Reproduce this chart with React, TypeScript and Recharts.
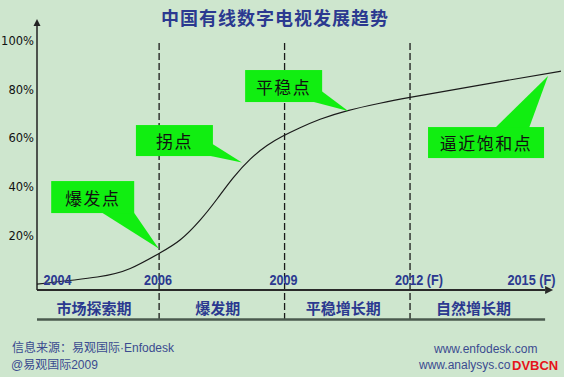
import React from 'react';
import { ComposedChart, Line, XAxis, YAxis, ReferenceLine, ReferenceDot, ReferenceArea } from 'recharts';

// ---- data ----
const years = [2003.08, 2004.52, 2005.31, 2006.0, 2006.5, 2006.98, 2007.39, 2007.77, 2008.18, 2008.58, 2008.94, 2009.37, 2009.85, 2010.49, 2011.28, 2012.0, 2013.67, 2015.61];
const penetration = [0, 2.9, 6.4, 12.6, 18.1, 26.3, 35.1, 43.7, 51.4, 57.0, 60.7, 64.3, 67.8, 71.3, 74.4, 76.8, 81.9, 87.6];

const yTicks = [20, 40, 60, 80, 100];
const yearTicks = [2004, 2006, 2009, 2012, 2015];
const yearLabels = ['2004', '2006', '2009', '2012 (F)', '2015 (F)'];
const dividerYears = [2006, 2009, 2012];
const phaseNames = ['市场探索期', '爆发期', '平稳增长期', '自然增长期'];
const phaseBounds = [2003.08, 2006, 2009, 2012, 2015.23];
const calloutTexts = ['爆发点', '拐点', '平稳点', '逼近饱和点'];
const calloutYears = [2005.99, 2007.98, 2010.52, 2015.3];
const calloutValues = [14.6, 50.0, 71.2, 85.6];

const chartData = years.map((year, i) => ({ year, value: penetration[i] }));

// ---- layout / style ----
const W = 564;
const H = 377;
const BG = '#CEE6CE';
const NAVY = '#2B3990';
const GREEN = '#11EE11';
const X_MIN = 2003.08;
const X_MAX = 2015.61;
const Y_MIN = -14.8;
const Y_MAX = 106.2;
const AXIS_Y = -2.5;
const AXIS_END_X = 2015.23;
const DIVIDER_TOP = 99.2;
const BOTTOM_Y = -14.6;
const CJK = "'Noto Sans CJK SC', 'Noto Sans', sans-serif";
const LATIN = "'Liberation Sans', 'Noto Sans CJK SC', sans-serif";

const calloutLayout = [
  { bx: -107.5, by: -67.5, w: 83, h: 32, t1: [-58.5, -37], t2: [-25.5, -37] },
  { bx: -106, by: -37.5, w: 77, h: 31, t1: [-31, -19.5], t2: [-36, -7.5] },
  { bx: -103, by: -41, w: 77, h: 32, t1: [-28, -21], t2: [-38, -10] },
  { bx: -120, by: 51, w: 116, h: 31, t1: [-53, 52], t2: [-19, 52] },
];

const arrowLine = (stroke: string, width: number, head: number, half: number) => (p: any) => {
  const { x1, y1, x2, y2 } = p;
  const dx = x2 - x1;
  const dy = y2 - y1;
  const len = Math.hypot(dx, dy) || 1;
  const ux = dx / len;
  const uy = dy / len;
  const tipX = x2 + ux * head;
  const tipY = y2 + uy * head;
  return (
    <g>
      <line x1={x1} y1={y1} x2={x2} y2={y2} stroke={stroke} strokeWidth={width} />
      {head > 0 && (
        <polygon
          points={`${tipX},${tipY} ${x2 - uy * half},${y2 + ux * half} ${x2 + uy * half},${y2 - ux * half}`}
          fill={stroke}
        />
      )}
    </g>
  );
};

const Callout = ({ cx, cy, text, layout }: any) => {
  const { bx, by, w, h, t1, t2 } = layout;
  return (
    <g>
      <polygon points={`${cx},${cy} ${cx + t1[0]},${cy + t1[1]} ${cx + t2[0]},${cy + t2[1]}`} fill={GREEN} />
      <rect x={cx + bx} y={cy + by} width={w} height={h} fill={GREEN} />
      <text
        x={cx + bx + w / 2}
        y={cy + by + h / 2}
        textAnchor="middle"
        dominantBaseline="central"
        fontFamily={CJK}
        fontSize={17}
        letterSpacing={1.5}
        fill="#111"
      >
        {text}
      </text>
    </g>
  );
};

const YearLabel = ({ cx, cy, text, index, count }: any) => {
  let anchor: 'start' | 'end' = 'start';
  let x = cx - 15;
  if (index === 0) x = cx - 32;
  if (index === count - 1) {
    anchor = 'end';
    x = cx + 20;
  }
  const hasF = text.includes('(F)');
  const len = text.replace(' (F)', '').length * 7 + (hasF ? 20 : 0);
  return (
    <text
      x={x}
      y={cy - 11}
      textAnchor={anchor}
      dominantBaseline="central"
      fontFamily="'Liberation Sans', sans-serif"
      fontWeight={700}
      fontSize={15}
      textLength={len}
      lengthAdjust="spacingAndGlyphs"
      fill={NAVY}
    >
      {text}
    </text>
  );
};

const PhaseLabel = (text: string) => (props: any) => {
  const vb = props.viewBox || {};
  return (
    <text
      x={vb.x + vb.width / 2 - 4}
      y={vb.y + vb.height / 2 + 2}
      textAnchor="middle"
      dominantBaseline="central"
      fontFamily={CJK}
      fontWeight={700}
      fontSize={15}
      fill={NAVY}
    >
      {text}
    </text>
  );
};

const textBase: React.CSSProperties = {
  position: 'absolute',
  whiteSpace: 'nowrap',
  lineHeight: '16px',
  fontSize: 12,
  fontFamily: LATIN,
  color: '#3B4B90',
};

export default function App() {
  return (
    <div style={{ position: 'absolute', left: 0, top: 0, width: W, height: H, background: BG, overflow: 'hidden' }}>
      <ComposedChart width={W} height={H} data={chartData} margin={{ top: 26, right: 3, bottom: 57, left: 0 }}>
        <XAxis dataKey="year" type="number" domain={[X_MIN, X_MAX]} allowDataOverflow hide />
        <YAxis
          type="number"
          domain={[Y_MIN, Y_MAX]}
          allowDataOverflow
          ticks={yTicks}
          tickFormatter={(v: number) => `${v}%`}
          width={37}
          axisLine={false}
          tickLine={false}
          tickSize={0}
          tickMargin={3}
          tick={{ fill: '#111', fontSize: 11.5, fontFamily: "'DejaVu Sans', sans-serif" }}
        />
        {phaseNames.map((name, i) => (
          <ReferenceArea
            key={name}
            x1={phaseBounds[i]}
            x2={phaseBounds[i + 1]}
            y1={Y_MIN}
            y2={AXIS_Y}
            fill="none"
            fillOpacity={0}
            stroke="none"
            label={PhaseLabel(name)}
          />
        ))}
        {dividerYears.map((yr) => (
          <ReferenceLine
            key={yr}
            segment={[{ x: yr, y: Y_MIN }, { x: yr, y: DIVIDER_TOP }]}
            stroke="#1a1a1a"
            strokeWidth={1.3}
            strokeDasharray="7 3"
          />
        ))}
        <ReferenceLine
          segment={[{ x: X_MIN, y: BOTTOM_Y }, { x: AXIS_END_X, y: BOTTOM_Y }]}
          shape={arrowLine('#4A5A4E', 2.5, 0, 0)}
        />
        <ReferenceLine
          segment={[{ x: X_MIN, y: AXIS_Y }, { x: AXIS_END_X, y: AXIS_Y }]}
          shape={arrowLine('#2a2a2a', 2, 8, 4)}
        />
        <ReferenceLine
          segment={[{ x: X_MIN, y: AXIS_Y }, { x: X_MIN, y: Y_MAX }]}
          shape={arrowLine('#222', 1.5, 7, 3.5)}
        />
        {yearTicks.map((yr, i) => (
          <ReferenceDot
            key={yr}
            x={yr}
            y={AXIS_Y}
            r={0}
            shape={(p: any) => <YearLabel cx={p.cx} cy={p.cy} text={yearLabels[i]} index={i} count={yearTicks.length} />}
          />
        ))}
        <Line
          type="natural"
          dataKey="value"
          stroke="#1a1a1a"
          strokeWidth={1.2}
          dot={false}
          isAnimationActive={false}
        />
        {calloutTexts.map((t, i) => (
          <ReferenceDot
            key={t}
            x={calloutYears[i]}
            y={calloutValues[i]}
            r={0}
            shape={(p: any) => <Callout cx={p.cx} cy={p.cy} text={t} layout={calloutLayout[i]} />}
          />
        ))}
      </ComposedChart>

      <div
        style={{
          position: 'absolute',
          left: 0,
          top: 7,
          width: 550,
          textAlign: 'center',
          fontFamily: CJK,
          fontWeight: 700,
          fontSize: 18,
          lineHeight: '20px',
          letterSpacing: 1,
          color: NAVY,
        }}
      >
        中国有线数字电视发展趋势
      </div>

      <div style={{ ...textBase, left: 12, top: 340 }}>信息来源：易观国际·Enfodesk</div>
      <div style={{ ...textBase, left: 11, top: 357 }}>@易观国际2009</div>
      <div style={{ ...textBase, left: 434, top: 341 }}>www.enfodesk.com</div>
      <div style={{ ...textBase, left: 419, top: 357 }}>www.analysys.com.cn</div>
      <div
        style={{
          ...textBase,
          left: 511,
          top: 358,
          fontWeight: 700,
          fontSize: 13,
          color: '#E5141B',
          background: BG,
          paddingLeft: 1,
        }}
      >
        DVBCN
      </div>
    </div>
  );
}
